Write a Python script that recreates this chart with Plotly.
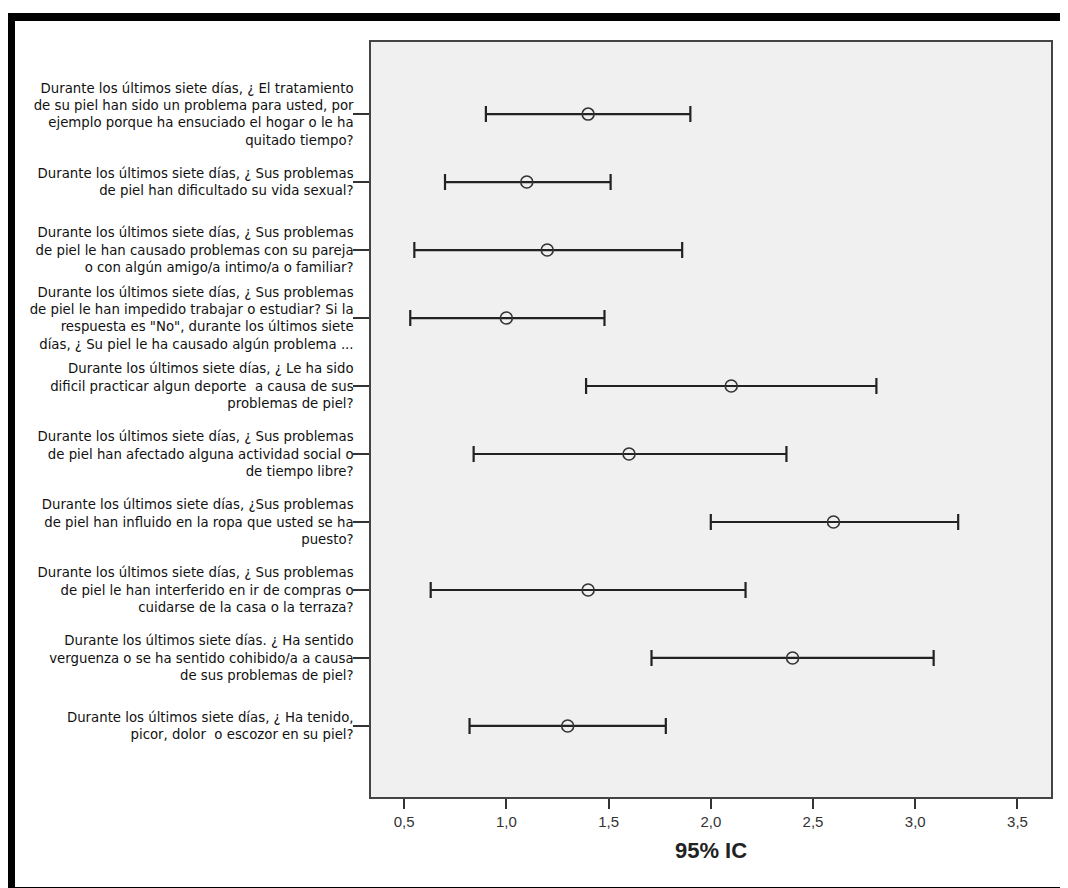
import plotly.graph_objects as go

categories = [
    "Durante los últimos siete días, ¿ El tratamiento<br>de su piel han sido un problema para usted, por<br>ejemplo porque ha ensuciado el hogar o le ha<br>quitado tiempo?",
    "Durante los últimos siete días, ¿ Sus problemas<br>de piel han dificultado su vida sexual?",
    "Durante los últimos siete días, ¿ Sus problemas<br>de piel le han causado problemas con su pareja<br>o con algún amigo/a intimo/a o familiar?",
    "Durante los últimos siete días, ¿ Sus problemas<br>de piel le han impedido trabajar o estudiar? Si la<br>respuesta es \"No\", durante los últimos siete<br>días, ¿ Su piel le ha causado algún problema ...",
    "Durante los últimos siete días, ¿ Le ha sido<br>dificil practicar algun deporte  a causa de sus<br>problemas de piel?",
    "Durante los últimos siete días, ¿ Sus problemas<br>de piel han afectado alguna actividad social o<br>de tiempo libre?",
    "Durante los últimos siete días, ¿Sus problemas<br>de piel han influido en la ropa que usted se ha<br>puesto?",
    "Durante los últimos siete días, ¿ Sus problemas<br>de piel le han interferido en ir de compras o<br>cuidarse de la casa o la terraza?",
    "Durante los últimos siete días. ¿ Ha sentido<br>verguenza o se ha sentido cohibido/a a causa<br>de sus problemas de piel?",
    "Durante los últimos siete días, ¿ Ha tenido,<br>picor, dolor  o escozor en su piel?",
]
means = [1.40, 1.10, 1.20, 1.00, 2.10, 1.60, 2.60, 1.40, 2.40, 1.30]
lower = [0.90, 0.70, 0.55, 0.53, 1.39, 0.84, 2.00, 0.63, 1.71, 0.82]
upper = [1.90, 1.51, 1.86, 1.48, 2.81, 2.37, 3.21, 2.17, 3.09, 1.78]
x_ticks = [0.5, 1.0, 1.5, 2.0, 2.5, 3.0, 3.5]

err_plus = [u - m for u, m in zip(upper, means)]
err_minus = [m - l for m, l in zip(means, lower)]

# page offset of the plot div (default body margin)
OFF = 8
W, H = 1068 - OFF, 888 - OFF
L, R, T, B = 371 - OFF, 1051 - OFF, 42 - OFF, 797 - OFF

fig = go.Figure()
fig.add_trace(go.Scatter(
    x=means, y=categories, mode="markers",
    marker=dict(symbol="circle-open", size=12, color="#333333",
                line=dict(width=1.6, color="#333333")),
    error_x=dict(type="data", symmetric=False, array=err_plus, arrayminus=err_minus,
                 color="#222222", thickness=2.2, width=8),
    showlegend=False, hoverinfo="x+y",
))

def px_x(p):
    return (p - OFF - L) / (R - L)

def px_y(p):
    return (B - (p - OFF)) / (B - T)

fig.add_shape(type="rect", xref="paper", yref="paper",
              x0=px_x(11), x1=px_x(1076), y0=px_y(891), y1=px_y(17),
              line=dict(color="black", width=8), layer="above")

n = len(categories)
fig.update_layout(
    width=W, height=H,
    margin=dict(l=L, r=W - R, t=T, b=H - B, autoexpand=False),
    paper_bgcolor="white", plot_bgcolor="#f0f0f0",
    separators=",.",
    font=dict(family="DejaVu Sans", size=13, color="#111111"),
    xaxis=dict(
        range=[0.338, 3.664], tickvals=x_ticks, tickformat=".1f",
        ticks="outside", ticklen=10, tickwidth=1.5, tickcolor="#333333",
        showgrid=False, zeroline=False,
        showline=True, mirror=True, linecolor="#444444", linewidth=1.5,
        tickfont=dict(family="Liberation Sans", size=15, color="#333333"),
        title=dict(text="<b>95% IC</b>", font=dict(family="Liberation Sans", size=22, color="#222222"), standoff=14),
        automargin=False,
    ),
    yaxis=dict(
        type="category", categoryorder="array", categoryarray=categories,
        range=[n - 1 + 1.045, -1.06],
        ticks="outside", ticklen=16, tickwidth=1.5, tickcolor="#333333",
        showgrid=False, zeroline=False,
        showline=True, mirror=True, linecolor="#444444", linewidth=1.5,
        tickfont=dict(family="DejaVu Sans", size=13.3, color="#111111"),
        ticklabelstandoff=-3,
        automargin=False,
    ),
)

fig.write_html("out.html")
